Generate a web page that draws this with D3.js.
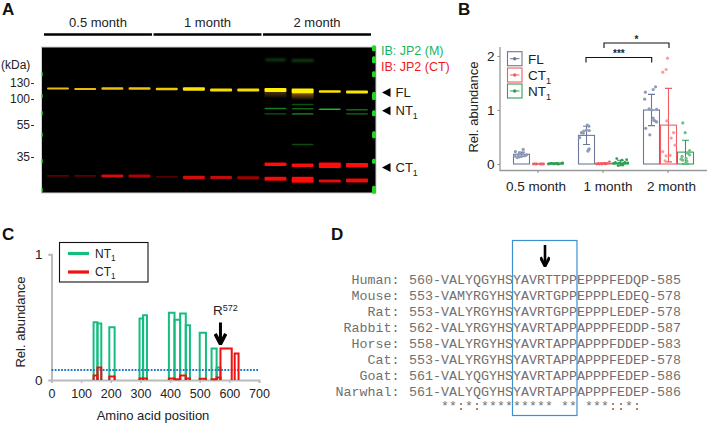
<!DOCTYPE html>
<html><head><meta charset="utf-8">
<script src="https://cdnjs.cloudflare.com/ajax/libs/d3/7.8.5/d3.min.js"></script>
<style>
html,body{margin:0;padding:0;background:#fff}
svg{display:block}
text{font-family:"Liberation Sans",Arial,sans-serif;fill:#222}
.mono{font-family:"Liberation Mono","Courier New",monospace;fill:#707070;font-size:13.33px}
</style></head><body>
<script>
// ---------- Panel A data ----------
const lanes = d3.range(1, 13);
const monthLabels = ["0.5 month", "1 month", "2 month"];
const mwTicks = [130, 100, 55, 35];
const flKda = [119, 118, 119, 119, 118, 118, 116, 116, 116, 114, 113, 112];
const flLevel = [.45, .45, .5, .55, .6, .9, .8, .8, 1, 1, .85, .9];
const flThick = [2, 2, 2.5, 2.5, 2.5, 3.5, 3, 3, 4, 5, 2.5, 3];
const lowRedKda = [26.8, 26.8, 26.8, 26.8, 26.4, 26.2, 26.2, 26.1, 25.7, 25.4, 24.9, 25.1];
const lowRedLevel = [.25, .25, .8, .65, .2, .8, .7, .55, .95, 1, .85, .9];
const lowRedThick = [1.8, 1.8, 3, 3, 1.8, 3.5, 3, 3, 4, 6, 3, 4];
const ctLanes = [9, 10, 11, 12];
const ctKda = [31.6, 31.2, 31.2, 31.2];
const ctThick = [3.5, 3.5, 5.5, 4.5];
const ntUpper = [[9, 80.5, .55], [10, 80, .4], [11, 79, .85], [12, 78, .45], [10, 88, .3]];
const ntLower = [[9, 71, .2], [10, 71, .45], [12, 71, .3], [10, 41.8, .28]];
const smearKda = [[9, 190, .35, 20], [10, 188, .35, 22]];
const brownSmear = [[9, 112, .45], [10, 109, .75]];
const ladderKda = [230, 190, 150, 105, 72, 48, 33, 22];
const ladderLen = [6, 7, 6, 8, 6, 7, 5, 8];

// ---------- Panel B data ----------
const groups = ["0.5 month", "1 month", "2 month"];
const seriesB = ["FL", "CT", "NT"];
const meanFL = [.18, .53, 1.0];
const meanCT = [.0, .01, .72];
const meanNT = [.01, .02, .22];
const sdFL = [.04, .17, .29];
const sdCT = [.005, .01, .68];
const sdNT = [.01, .05, .22];
const dotsFL05 = [[-.36,.23],[.1,.27],[-.2,.17],[0,.14],[.2,.155],[-.26,.12],[-.1,.2],[.3,.17],[-.4,.15],[.06,.19],[-.14,.13]];
const dotsFL1 = [[-.4,.49],[-.3,.58],[-.16,.61],[0,.63],[.14,.7],[.04,.72],[.16,.62],[-.2,.57],[.12,.26],[.08,.24],[.16,.28]];
const dotsFL2 = [[-.36,1.33],[.1,1.38],[.24,1.43],[-.4,1.2],[-.14,1.02],[.02,1.0],[.3,1.01],[.1,.85],[.2,.8],[.3,.78],[-.34,.66],[-.1,.54],[.14,.81]];
const dotsCT05 = [[-.3,0],[-.1,0],[.1,0],[.3,0],[-.2,0],[.2,0]];
const dotsCT1 = [[-.4,0],[-.25,0],[-.1,0],[.05,.01],[.2,.01],[.35,.04],[.1,0],[-.3,.01]];
const dotsCT2 = [[-.06,1.96],[-.14,1.75],[-.34,1.7],[-.1,.8],[.3,.58],[.16,.48],[.38,.35],[-.34,.23],[-.14,.15],[-.2,.06],[.1,.16]];
const dotsNT05 = [[-.4,0],[-.25,.01],[-.1,0],[.05,.01],[.2,0],[.35,.01],[.42,.02],[-.3,.01],[.1,0]];
const dotsNT1 = [[-.38,.01],[-.22,.1],[-.14,-.03],[-.06,.02],[.08,.07],[.2,.01],[.36,.08],[.26,.03],[.42,.02],[-.3,.03],[.12,-.01]];
const dotsNT2 = [[-.16,.76],[-.02,.58],[.24,.25],[.14,.2],[-.2,.14],[.04,.1],[-.16,.07],[0,.01],[.24,.17],[-.26,.09],[.08,.05]];
const colStroke = {FL:"#6b7899", CT:"#f25c63", NT:"#2f9e55"};
const colDot = {FL:"#8f9ab8", CT:"#f99ea0", NT:"#6fbf8a"};

// ---------- Panel C data ----------
const ntStart = [142,155,195,297,309,396,415,434,453,500,540,557];
const ntEnd   = [155,168,213,309,322,415,434,453,467,521,557,570];
const ntAbund = [.46,.45,.42,.49,.515,.535,.48,.53,.435,.375,.25,.1];
const ctStart = [142,155,195,297,309,396,415,434,453,500,540,557,570,618];
const ctEnd   = [155,168,213,309,322,415,434,453,467,521,557,570,608,631];
const ctAbund = [.035,.1,.027,.012,.012,.012,.005,.035,.012,.01,.005,.02,.25,.21];
const thresholdC = .08;

// ---------- Panel D data ----------
const species = ["Human","Mouse","Rat","Rabbit","Horse","Cat","Goat","Narwhal"];
const sequences = [
 "560-VALYQGYHSYAVRTTPPEPPPFEDQP-585",
 "553-VAMYRGYHSYAVRTGPPEPPPLEDEQ-578",
 "553-VALYRGYHSYAVRTGPPEPPPLEDEP-578",
 "562-VALYRGYHSYAVRTAPPAPPPFEDDP-587",
 "558-VALYRGYHSYAVRTAPPAPPPFDDEP-583",
 "553-VALYRGYHSYAVRTAPPAPPPFEDEP-578",
 "561-VALYQGYHSYAVRTAPPAPPPFEDEP-586",
 "561-VALYQGYHSYAVRTAPPAPPPFEDEP-586"];
const conservation = "**:*:********* ** ***::*:";

// ---------- helpers ----------
const svg = d3.select("body").append("svg").attr("width",708).attr("height",424);
const defs = svg.append("defs");
defs.append("filter").attr("id","b1").attr("x","-20%").attr("y","-100%").attr("width","140%").attr("height","300%")
  .append("feGaussianBlur").attr("stdDeviation",.55);
defs.append("filter").attr("id","b2").attr("x","-30%").attr("y","-100%").attr("width","160%").attr("height","300%")
  .append("feGaussianBlur").attr("stdDeviation",1.3);
const bsm = defs.append("linearGradient").attr("id","brown").attr("x1",0).attr("x2",0).attr("y1",0).attr("y2",1);
bsm.append("stop").attr("offset",0).attr("stop-color","#a86f18");
bsm.append("stop").attr("offset",1).attr("stop-color","#a86f18").attr("stop-opacity",0);
defs.append("marker").attr("id","head").attr("viewBox","0 0 10 10").attr("refX",9).attr("refY",5)
  .attr("markerWidth",4.2).attr("markerHeight",4.2).attr("orient","auto")
  .append("path").attr("d","M1,0.8 L9,5 L1,9.2").attr("fill","none").attr("stroke","#000").attr("stroke-width",2.8);

function subText(g,x,y,main,sub,size,fill){
  const t=g.append("text").attr("x",x).attr("y",y).attr("font-size",size);
  if(fill) t.style("fill",fill);
  t.append("tspan").text(main);
  if(sub) t.append("tspan").attr("dy",size*.28).attr("font-size",size*.68).text(sub);
  return t;
}
[["A",2,15],["B",458,15],["C",2,240],["D",331,240]].forEach(d=>
  svg.append("text").attr("x",d[1]).attr("y",d[2]).attr("font-size",17).attr("font-weight","bold").style("fill","#111").text(d[0]));

// ---------- Panel A ----------
const A = svg.append("g");
const mw = d3.scaleLog().domain(mwTicks).range([83,99,125,157]);
const laneX = d3.scalePoint().domain(lanes).range([58,357]);
const laneW = 22;
const gelL=41.5, gelT=47, gelW=334.5, gelH=146;
const months = d3.scaleBand().domain(monthLabels).range([44,371]).paddingInner(.014);
monthLabels.forEach(m=>{
  A.append("line").attr("x1",months(m)).attr("x2",months(m)+months.bandwidth()).attr("y1",34.5).attr("y2",34.5).attr("stroke","#000").attr("stroke-width",2.4);
  A.append("text").attr("x",months(m)+months.bandwidth()/2).attr("y",26.5).attr("text-anchor","middle").attr("font-size",13).text(m);
});
A.append("rect").attr("x",gelL).attr("y",gelT).attr("width",gelW).attr("height",gelH).attr("fill","#000").attr("stroke","#cfcfcf").attr("stroke-width",1);
const gel = A.append("g");
const bandRect=(lane,kda,th,color,op,w)=>gel.append("rect")
  .attr("x",laneX(lane)-(w||laneW)/2).attr("width",w||laneW)
  .attr("y",mw(kda)-th/2).attr("height",th).attr("rx",1).attr("fill",color).attr("opacity",op==null?1:op).attr("filter","url(#b1)");
const yel=d3.interpolateRgb("#d88c10","#fff000"), red=d3.interpolateRgb("#2a0303","#ff0808"), grn=d3.interpolateRgb("#021803","#1fd02f");
brownSmear.forEach(d=>gel.append("rect").attr("x",laneX(d[0])-laneW/2).attr("width",laneW).attr("y",mw(d[1])).attr("height",6.5).attr("fill","url(#brown)").attr("opacity",d[2]));
lanes.forEach((l,i)=>{
  bandRect(l,flKda[i],flThick[i],yel(flLevel[i]));
  bandRect(l,lowRedKda[i],lowRedThick[i],red(lowRedLevel[i]));
});
ctLanes.forEach((l,i)=>bandRect(l,ctKda[i],ctThick[i],"#ff0a0a"));
ntUpper.concat(ntLower).forEach(d=>bandRect(d[0],d[1],1.6,grn(d[2])));
smearKda.forEach(d=>gel.append("rect").attr("x",laneX(d[0])-d[3]/2).attr("width",d[3]).attr("y",mw(d[1])-1.5).attr("height",3).attr("fill","#145a1a").attr("opacity",d[2]+.3).attr("filter","url(#b2)"));
ladderKda.forEach((k,i)=>{
  gel.append("rect").attr("x",372).attr("width",4).attr("y",mw(k)-ladderLen[i]/2).attr("height",ladderLen[i]).attr("rx",1.5).attr("fill","#22d628").attr("filter","url(#b1)");
  if(i>=2) gel.append("rect").attr("x",41.5).attr("width",1.5).attr("y",mw(k)-2).attr("height",4).attr("fill","#22b828").attr("opacity",.8);
});
A.append("text").attr("x",1).attr("y",69).attr("font-size",12).text("(kDa)");
const axA = A.append("g").attr("transform","translate(34,0)").call(
  d3.axisLeft(mw).tickValues(mwTicks).tickFormat(d3.format("d")).tickSize(0).tickPadding(4));
axA.select(".domain").remove();
axA.selectAll("text").attr("font-size",12).attr("font-family",null).style("fill","#222");
axA.selectAll(".tick").append("line").attr("x1",-3).attr("x2",0).attr("stroke","#333");
A.append("text").attr("x",381).attr("y",55).attr("font-size",12.5).style("fill","#18b45e").text("IB: JP2 (M)");
A.append("text").attr("x",381).attr("y",71).attr("font-size",12.5).style("fill","#f01818").text("IB: JP2 (CT)");
[["FL","",115],["NT","1",80],["CT","1",31]].forEach(d=>{
  const y=mw(d[2])+2;
  A.append("path").attr("d",d3.line()([[382,y],[390.5,y-4.5],[390.5,y+4.5]])+"Z").attr("fill","#000");
  subText(A,395.5,y+4.5,d[0],d[1],13);
});

// ---------- Panel B ----------
const B = svg.append("g");
const yB = d3.scaleLinear().domain([0,2]).range([164,56]);
const xB = d3.scaleBand().domain(groups).range([505.5,700.5]);
const xIn = d3.scaleBand().domain(seriesB).range([7.5,58.5]);
const means={FL:meanFL,CT:meanCT,NT:meanNT}, sds={FL:sdFL,CT:sdCT,NT:sdNT};
const dots={FL:[dotsFL05,dotsFL1,dotsFL2],CT:[dotsCT05,dotsCT1,dotsCT2],NT:[dotsNT05,dotsNT1,dotsNT2]};
const axBy=B.append("g").attr("transform","translate(500,0)").call(d3.axisLeft(yB).tickValues([0,1,2]).tickFormat(d3.format("d")).tickSize(2.5).tickPadding(3));
const axBx=B.append("g").attr("transform","translate(0,170.5)").call(d3.axisBottom(xB).tickSize(2.5).tickPadding(8));
[axBy,axBx].forEach(a=>{
  a.selectAll("text").attr("font-size",13.5).attr("font-family",null).style("fill","#222");
  a.selectAll("line").attr("stroke","#888");
  a.select(".domain").remove();
});
const labelShift=[-2,5,3.5];
axBx.selectAll(".tick text").attr("dx",(d,i)=>labelShift[i]);
B.append("path").attr("d","M500,47V170.5H707").attr("fill","none").attr("stroke","#999").attr("stroke-width",1.3);
B.append("text").attr("transform","translate(478,107) rotate(-90)").attr("text-anchor","middle").attr("font-size",13).text("Rel. abundance");
groups.forEach((g,gi)=>seriesB.forEach(s=>{
  const x=xB(g)+xIn(s), w=xIn.bandwidth(), cx=x+w/2, m=means[s][gi], sd=sds[s][gi];
  const gg=B.append("g");
  gg.append("rect").attr("x",x+.5).attr("width",w-1).attr("y",yB(m)).attr("height",Math.max(0,yB(0)-yB(m))).attr("fill","none").attr("stroke",colStroke[s]).attr("stroke-width",1.1);
  const top=yB(m+sd), bot=yB(Math.max(m-sd,-.03));
  gg.append("path").attr("d",`M${cx-3.5},${top}H${cx+3.5}M${cx},${top}V${bot}M${cx-3.5},${bot}H${cx+3.5}`).attr("fill","none").attr("stroke",colStroke[s]).attr("stroke-width",1.1);
  gg.selectAll("circle").data(dots[s][gi]).join("circle")
    .attr("cx",d=>cx+d[0]*w).attr("cy",d=>yB(d[1])).attr("r",s=="FL"||gi==2?1.6:1.4)
    .attr("fill",d=>gi==2||s=="FL"?colDot[s]:colStroke[s]);
}));
seriesB.forEach((s,i)=>{
  const y=[51.7,68,84][i];
  B.append("rect").attr("x",507.5).attr("y",y).attr("width",14.5).attr("height",14).attr("fill","#fff").attr("stroke",colStroke[s]).attr("stroke-width",1.1);
  B.append("line").attr("x1",510).attr("x2",519.5).attr("y1",y+7).attr("y2",y+7).attr("stroke",colStroke[s]);
  B.append("circle").attr("cx",514.7).attr("cy",y+7).attr("r",1.7).attr("fill",colStroke[s]);
  subText(B,528,y+12,s,s=="FL"?"":"1",13.5);
});
[[586,651.7,57.5,"***"],[604,669,43,"*"]].forEach(d=>{
  B.append("path").attr("d",`M${d[0]},${d[2]+5}V${d[2]}H${d[1]}V${d[2]+5}`).attr("fill","none").attr("stroke","#111").attr("stroke-width",1.1);
  B.append("text").attr("x",(d[0]+d[1])/2).attr("y",d[2]-.5).attr("text-anchor","middle").attr("font-size",10).attr("font-weight","bold").text(d[3]);
});

// ---------- Panel C ----------
const C = svg.append("g");
const xC = d3.scaleLinear().domain([0,700]).range([51.5,259]);
const yC = d3.scaleLinear().domain([0,1]).range([380,254.3]);
const axCx=C.append("g").attr("transform","translate(0,380)").call(d3.axisBottom(xC).tickValues(d3.range(0,701,100)).tickFormat(d3.format("d")).tickSize(3).tickPadding(6));
const axCy=C.append("g").attr("transform","translate(51.5,0)").call(d3.axisLeft(yC).tickValues([0,1]).tickFormat(d3.format("d")).tickSize(3).tickPadding(6));
[axCx,axCy].forEach(a=>{
  a.selectAll("text").attr("font-size",12.5).attr("font-family",null).style("fill","#222");
  a.selectAll("line").attr("stroke","#bbb").attr("stroke-width",1.5);
  a.select(".domain").attr("stroke","#bbb").attr("stroke-width",2);
});
axCy.selectAll("text").attr("font-size",13.5);
C.append("text").attr("transform","translate(25,322) rotate(-90)").attr("text-anchor","middle").attr("font-size",13).text("Rel. abundance");
C.append("text").attr("x",153).attr("y",420).attr("text-anchor","middle").attr("font-size",13).text("Amino acid position");
const outline=(s,e,v)=>`M${xC(s)},${yC(0)}V${yC(v)}H${xC(e)}V${yC(0)}`;
const drawPeps=(st,en,ab,col)=>C.append("g").selectAll("path").data(st).join("path")
  .attr("d",(d,i)=>outline(d,en[i],ab[i])).attr("fill","none").attr("stroke",col).attr("stroke-width",2);
drawPeps(ntStart,ntEnd,ntAbund,"#14bd7e");
C.append("line").attr("x1",xC(0)).attr("x2",xC(700)).attr("y1",yC(thresholdC)).attr("y2",yC(thresholdC)).attr("stroke","#1f78c8").attr("stroke-width",2).attr("stroke-dasharray","1.8 1.4");
drawPeps(ctStart,ctEnd,ctAbund,"#f01010");
C.append("rect").attr("x",59.5).attr("y",242.5).attr("width",88.5).attr("height",39.5).attr("fill","#fff").attr("stroke","#111").attr("stroke-width",1.1);
[["NT","#14bd7e",253.5],["CT","#f01010",272]].forEach(d=>{
  C.append("line").attr("x1",68).attr("x2",89).attr("y1",d[2]).attr("y2",d[2]).attr("stroke",d[1]).attr("stroke-width",3.2);
  subText(C,95,d[2]+4,d[0],"1",12);
});
const r=C.append("text").attr("x",213).attr("y",315).attr("font-size",13.5);
r.append("tspan").text("R");
r.append("tspan").attr("dy",-4).attr("font-size",9).text("572");
C.append("line").attr("x1",xC(570)).attr("x2",xC(570)).attr("y1",322.5).attr("y2",344).attr("stroke","#000").attr("stroke-width",3).attr("marker-end","url(#head)");

// ---------- Panel D ----------
const D = svg.append("g");
const rowY = d3.scalePoint().domain(species).range([284,396]);
species.forEach((s,i)=>{
  D.append("text").attr("class","mono").attr("x",399.5).attr("y",rowY(s)).attr("text-anchor","end").text(s+":");
  D.append("text").attr("class","mono").attr("x",409).attr("y",rowY(s)).text(sequences[i]);
});
D.append("text").attr("class","mono").attr("x",441).attr("y",410).style("white-space","pre").text(conservation);
D.append("rect").attr("x",512.5).attr("y",240.5).attr("width",64.5).attr("height",175).attr("fill","none").attr("stroke","#3a90d0").attr("stroke-width",1.2);
D.append("line").attr("x1",545).attr("x2",545).attr("y1",245).attr("y2",266).attr("stroke","#000").attr("stroke-width",2.6).attr("marker-end","url(#head)");
</script>
</body></html>
